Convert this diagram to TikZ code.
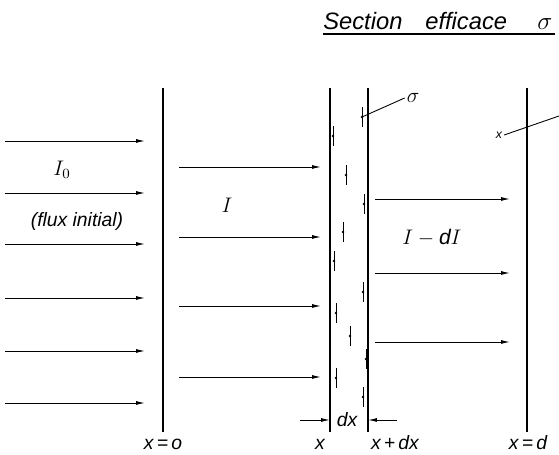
\documentclass[tikz,border=0pt]{standalone}
\usepackage{fontspec}
\setmainfont{Liberation Sans}
\usetikzlibrary{arrows.meta}

\tikzset{
  wall/.style={line width=0.75pt},
  flux/.style={-{Latex[length=5pt,width=2.2pt]}, line width=0.55pt},
  hit/.style={line width=0.4pt},
  lab/.style={font=\fontsize{11}{13}\selectfont\itshape, inner sep=1pt},
}

\begin{document}
\begin{tikzpicture}[x=0.02cm, y=-0.02cm]
  \useasboundingbox (0,0) rectangle (559,455);

  % Title, underlined
  \begin{scope}[every node/.style={font=\fontsize{13.5}{15}\selectfont\itshape, inner sep=0pt}]
    \node[anchor=base west] (tsec) at (323,30) {Section};
    \node[anchor=base west] (teff) at (425,30) {efficace};
    \node[anchor=base west] (tsig) at (537,30) {$\sigma$};
  \end{scope}
  \coordinate (ul) at (323,34);
  \coordinate (ur) at (555,34);
  \draw[line width=0.9pt] (ul) -- (ur);

  % The four planes: x=0, x, x+dx, x=d
  \foreach \n/\x in {x0/163, x1/330, x2/368, xd/527} {
    \coordinate (\n-t) at (\x,88);
    \coordinate (\n-b) at (\x,432);
    \draw[wall] (\n-t) -- (\n-b);
  }

  % Plane labels
  \node[lab, anchor=base] (lx0) at (163,450) {x\,=\,o};
  \node[lab, anchor=base] (lx1) at (320,450) {x};
  \node[lab, anchor=base] (lx2) at (395,450) {x\,+\,dx};
  \node[lab, anchor=base] (lxd) at (528,450) {x\,=\,d};

  % Thickness dx
  \node[lab] (dx) at (347,420) {dx};
  \coordinate (dxl) at (300,420);
  \coordinate (dxr) at (397,420);
  \draw[flux] (dxl) -- (dxl -| x1-t);
  \draw[flux] (dxr) -- (dxr -| x2-t);

  % Incident flux
  \foreach \y in {141,193,244,298,351,403}
    \draw[flux] (5,\y) -- (145,\y);
  \node[font=\fontsize{12}{14}\selectfont] (I0) at (62,170) {$I_0$};
  \node[lab] (fluxi) at (77,222) {(flux initial)};

  % Flux reaching the slab
  \foreach \y in {167,237,306,377}
    \draw[flux] (179,\y) -- (321,\y);
  \node[font=\fontsize{12}{14}\selectfont] (I) at (227,205) {$I$};

  % Flux leaving the slab
  \foreach \y in {199,273,342}
    \draw[flux] (375,\y) -- (510,\y);
  \node[font=\fontsize{12}{14}\selectfont] (IdI) at (432,238) {$I-\textit{d}I$};

  % Targets inside the slab
  \foreach \i/\x/\y in {1/362/117, 2/333/136, 3/346/175, 4/364/204,
                        5/343/232, 6/334/261, 7/363/292, 8/336/313,
                        9/350/336, 10/366/359, 11/336/378, 12/363/397} {
    \coordinate (h\i) at (\x,\y);
    \draw[hit] ([yshift=-5.5pt]h\i) -- ([yshift=5.5pt]h\i);
    \fill (h\i) circle[radius=0.8pt];
  }

  % Cross section
  \node[font=\fontsize{13}{15}\selectfont, inner sep=1pt] (sig) at (413,98) {$\sigma$};
  \draw[line width=0.5pt] (h1) -- (sig.west);

  % Point past the slab
  \node[lab, font=\fontsize{7}{8}\selectfont\itshape, inner sep=1pt] (pt) at (499,135) {x};
  \coordinate (ptr) at (559,116);
  \draw[line width=0.5pt] (pt.east) -- (ptr);
\end{tikzpicture}
\end{document}
